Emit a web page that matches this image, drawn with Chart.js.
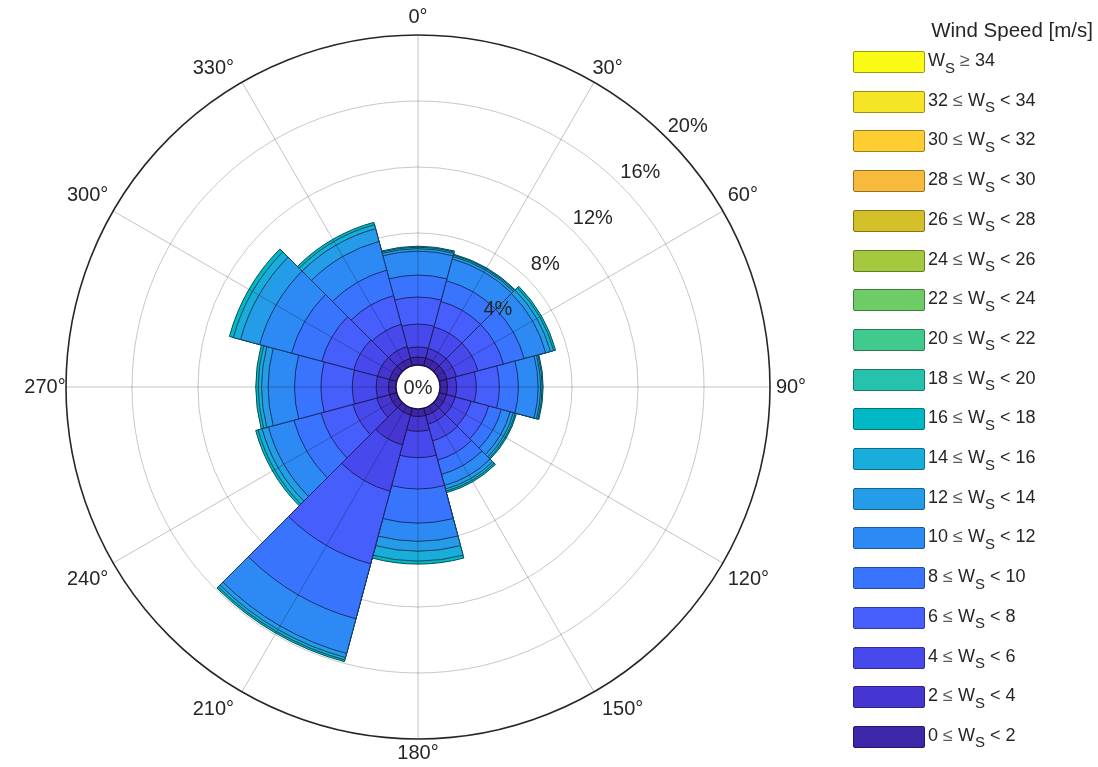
<!DOCTYPE html>
<html>
<head>
<meta charset="utf-8">
<script src="https://cdn.jsdelivr.net/npm/chart.js@4.4.1/dist/chart.umd.min.js"></script>
<style>
  html, body { margin: 0; padding: 0; background: #ffffff; }
  #wrap { position: relative; width: 1098px; height: 767px; overflow: hidden; }
  #c { position: absolute; left: 0; top: 0; }
  #legend { position: absolute; left: 0; top: 0; width: 1098px; height: 767px; pointer-events: none;
            font-family: "Liberation Sans", Arial, Helvetica, sans-serif; color: #262626; }
  #legend .title { position: absolute; right: 5px; top: 18px; font-size: 20.5px; white-space: nowrap; }
  #legend .row { position: absolute; left: 853px; width: 240px; height: 22px; }
  #legend .sw { position: absolute; left: 0; top: 0; width: 70px; height: 20px; border: 1px solid; border-radius: 2px; }
  #legend .lbl { position: absolute; left: 75px; top: -2px; font-size: 18px; line-height: 22px; white-space: nowrap; }
  #legend .lbl sub { font-size: 15px; position: relative; top: 2px; vertical-align: sub; line-height: 0; }
  #legend .op { color: #5a5a5a; }
</style>
</head>
<body>
<div id="wrap">
  <canvas id="c" width="1098" height="767"></canvas>
  <div id="legend"></div>
</div>
<script>
// ---- data ----
const directions = [0, 30, 60, 90, 120, 150, 180, 210, 240, 270, 300, 330];
const directionLabels = directions.map(d => d + '\u00B0');
const radialTicks = [0, 4, 8, 12, 16, 20];
const speedEdges = [0, 2, 4, 6, 8, 10, 12, 14, 16, 18, 20, 22, 24, 26, 28, 30, 32, 34];

// frequency [%] of each speed bin, per direction (same order as directions)
const ws0_2   = [0.48, 0.48, 0.48, 0.45, 0.45, 0.45, 0.45, 0.42, 0.45, 0.45, 0.45, 0.45];
const ws2_4   = [0.61, 0.60, 0.60, 0.55, 0.55, 0.55, 0.90, 1.88, 0.80, 0.75, 0.75, 0.75];
const ws4_6   = [1.39, 1.35, 1.35, 1.20, 1.00, 1.05, 1.60, 2.91, 1.50, 1.45, 1.50, 1.40];
const ws6_8   = [1.64, 1.60, 1.60, 1.40, 1.10, 1.20, 1.90, 4.55, 2.00, 1.90, 2.00, 1.80];
const ws8_10  = [1.33, 1.30, 1.30, 1.15, 0.80, 0.90, 2.07, 3.45, 1.70, 1.60, 1.90, 1.60];
const ws10_12 = [1.45, 1.37, 1.35, 1.20, 0.55, 0.70, 1.10, 2.18, 1.60, 1.60, 2.00, 1.80];
const ws12_14 = [0.15, 0.15, 0.30, 0.15, 0.20, 0.22, 0.60, 0.25, 0.40, 0.40, 1.20, 0.80];
const ws14_16 = [0.09, 0.09, 0.20, 0.09, 0.12, 0.13, 0.60, 0.15, 0.25, 0.20, 0.45, 0.25];
const ws16_18 = [0.06, 0.06, 0.12, 0.06, 0.08, 0.10, 0.18, 0.11, 0.15, 0.15, 0.25, 0.15];
const ws18_20 = [0, 0, 0, 0, 0, 0, 0, 0, 0, 0, 0, 0];
const ws20_22 = [0, 0, 0, 0, 0, 0, 0, 0, 0, 0, 0, 0];
const ws22_24 = [0, 0, 0, 0, 0, 0, 0, 0, 0, 0, 0, 0];
const ws24_26 = [0, 0, 0, 0, 0, 0, 0, 0, 0, 0, 0, 0];
const ws26_28 = [0, 0, 0, 0, 0, 0, 0, 0, 0, 0, 0, 0];
const ws28_30 = [0, 0, 0, 0, 0, 0, 0, 0, 0, 0, 0, 0];
const ws30_32 = [0, 0, 0, 0, 0, 0, 0, 0, 0, 0, 0, 0];
const ws32_34 = [0, 0, 0, 0, 0, 0, 0, 0, 0, 0, 0, 0];
const ws34_up = [0, 0, 0, 0, 0, 0, 0, 0, 0, 0, 0, 0];

const bins = [ws0_2, ws2_4, ws4_6, ws6_8, ws8_10, ws10_12, ws12_14, ws14_16, ws16_18,
              ws18_20, ws20_22, ws22_24, ws24_26, ws26_28, ws28_30, ws30_32, ws32_34, ws34_up];

// ---- styles (parula-like) ----
const binColors = ['#3e26a8', '#4536d2', '#4849ed', '#465efb', '#3974fe', '#2d8af5', '#259ce7', '#18addb', '#01b9c6',
                   '#27c2ac', '#40ca8d', '#6ecc66', '#a4c83e', '#d3bf27', '#f7ba3c', '#fdcd32', '#f5e526', '#f9fb15'];
function darken(hex, f) {
  const n = parseInt(hex.slice(1), 16);
  const r = Math.round(((n >> 16) & 255) * f), g = Math.round(((n >> 8) & 255) * f), b = Math.round((n & 255) * f);
  return 'rgb(' + r + ',' + g + ',' + b + ')';
}
const binEdges = binColors.map(c => darken(c, 0.62));
const barEdges = binColors.map(c => darken(c, 0.42));

// ---- cumulative stacks ----
const cumulative = [];
bins.forEach((b, k) => {
  cumulative.push(b.map((v, j) => (k === 0 ? 0 : cumulative[k - 1][j]) + v));
});

const datasets = bins.map((b, k) => ({
  label: k === bins.length - 1 ? 'Ws >= ' + speedEdges[k] : speedEdges[k] + ' <= Ws < ' + speedEdges[k + 1],
  data: cumulative[k],
  angle: 30,
  backgroundColor: ctx => (b[ctx.dataIndex] > 0 ? binColors[k] : 'rgba(0,0,0,0)'),
  borderColor: ctx => (b[ctx.dataIndex] > 0 ? barEdges[k] : 'rgba(0,0,0,0)'),
  borderWidth: 1
}));

const FONT = '"Liberation Sans", Arial, Helvetica, sans-serif';

const overlay = {
  id: 'overlay',
  afterDraw(chart) {
    const s = chart.scales.r;
    const c = chart.ctx;
    const r0 = s.getDistanceFromCenterForValue(radialTicks[0]);
    const rMax = s.getDistanceFromCenterForValue(radialTicks[radialTicks.length - 1]);
    const half = Math.PI / 12;
    c.save();
    // spokes through the middle of each sector
    c.strokeStyle = 'rgba(0,0,0,0.24)';
    c.lineWidth = 1;
    directions.forEach((d, i) => {
      const a = s.getPointPosition(i, r0, half);
      const b = s.getPointPosition(i, rMax, half);
      c.beginPath(); c.moveTo(a.x, a.y); c.lineTo(b.x, b.y); c.stroke();
    });
    // centre hole
    c.beginPath();
    c.arc(s.xCenter, s.yCenter, r0, 0, Math.PI * 2);
    c.fillStyle = '#ffffff'; c.fill();
    c.strokeStyle = barEdges[0]; c.lineWidth = 1.5; c.stroke();
    // texts
    c.fillStyle = '#262626';
    c.textBaseline = 'middle';
    c.font = '20px ' + FONT;
    c.textAlign = 'center';
    c.fillText(radialTicks[0] + '%', s.xCenter, s.yCenter + 1);
    const tickAng = 46 * Math.PI / 180;
    radialTicks.slice(1).forEach(v => {
      const rr = s.getDistanceFromCenterForValue(v) + 23;
      c.fillText(v + '%', s.xCenter + rr * Math.sin(tickAng), s.yCenter - rr * Math.cos(tickAng));
    });
    directionLabels.forEach((lab, i) => {
      const th = directions[i] * Math.PI / 180;
      const sn = Math.sin(th), cs = Math.cos(th);
      const w = c.measureText(lab).width;
      let x, y;
      if (Math.abs(sn) < 0.1) {
        const p = s.getPointPosition(i, rMax + (cs > 0 ? 18 : 14), half); x = p.x; y = p.y;
      } else if (Math.abs(sn) > 0.99) {
        const p = s.getPointPosition(i, rMax + 21, half); x = p.x; y = p.y;
      } else if (Math.abs(sn) < 0.6) {
        const p = s.getPointPosition(i, rMax + 16, half);
        const sh = (sn > 0 && cs > 0) ? (w / 2 - 9.5) : w / 2;
        x = p.x + Math.sign(sn) * sh; y = p.y + (cs < 0 ? 4 : 0);
      } else {
        const p = s.getPointPosition(i, rMax + 16, half); x = p.x + Math.sign(sn) * (w / 2 - 9); y = p.y - Math.sign(cs) * 8;
      }
      c.fillText(lab, x, y);
    });
    c.restore();
  }
};

new Chart(document.getElementById('c'), {
  type: 'polarArea',
  data: { labels: directionLabels, datasets: datasets },
  options: {
    responsive: false,
    animation: false,
    events: [],
    layout: { padding: { left: 66, right: 328, top: 35, bottom: 28 } },
    plugins: { legend: { display: false }, tooltip: { enabled: false } },
    scales: {
      r: {
        min: -radialTicks[1] / 3,
        max: radialTicks[radialTicks.length - 1],
        startAngle: -15,
        z: 1,
        afterBuildTicks: sc => { sc.ticks = radialTicks.map(v => ({ value: v })); },
        ticks: { display: false },
        grid: {
          circular: true,
          color: ctx => (ctx.tick && ctx.tick.value === 20 ? '#262626' : (ctx.tick && ctx.tick.value === 0 ? 'rgba(0,0,0,0)' : 'rgba(0,0,0,0.22)')),
          lineWidth: ctx => (ctx.tick && ctx.tick.value === 20 ? 1.6 : 1)
        },
        angleLines: { display: false },
        pointLabels: { display: false }
      }
    }
  },
  plugins: [overlay]
});

// ---- legend (HTML text) ----
const legend = document.getElementById('legend');
const title = document.createElement('div');
title.className = 'title';
title.textContent = 'Wind Speed [m/s]';
legend.appendChild(title);
for (let row = 0; row < bins.length; row++) {
  const k = bins.length - 1 - row;
  const el = document.createElement('div');
  el.className = 'row';
  el.style.top = (51 + row * 39.7) + 'px';
  const sw = document.createElement('div');
  sw.className = 'sw';
  sw.style.background = binColors[k];
  sw.style.borderColor = binEdges[k];
  const lbl = document.createElement('div');
  lbl.className = 'lbl';
  if (k === bins.length - 1) {
    lbl.innerHTML = 'W<sub>S</sub> <span class="op">\u2265</span> ' + speedEdges[k];
  } else {
    lbl.innerHTML = speedEdges[k] + ' <span class="op">\u2264</span> W<sub>S</sub> &lt; ' + speedEdges[k + 1];
  }
  el.appendChild(sw);
  el.appendChild(lbl);
  legend.appendChild(el);
}
</script>
</body>
</html>
